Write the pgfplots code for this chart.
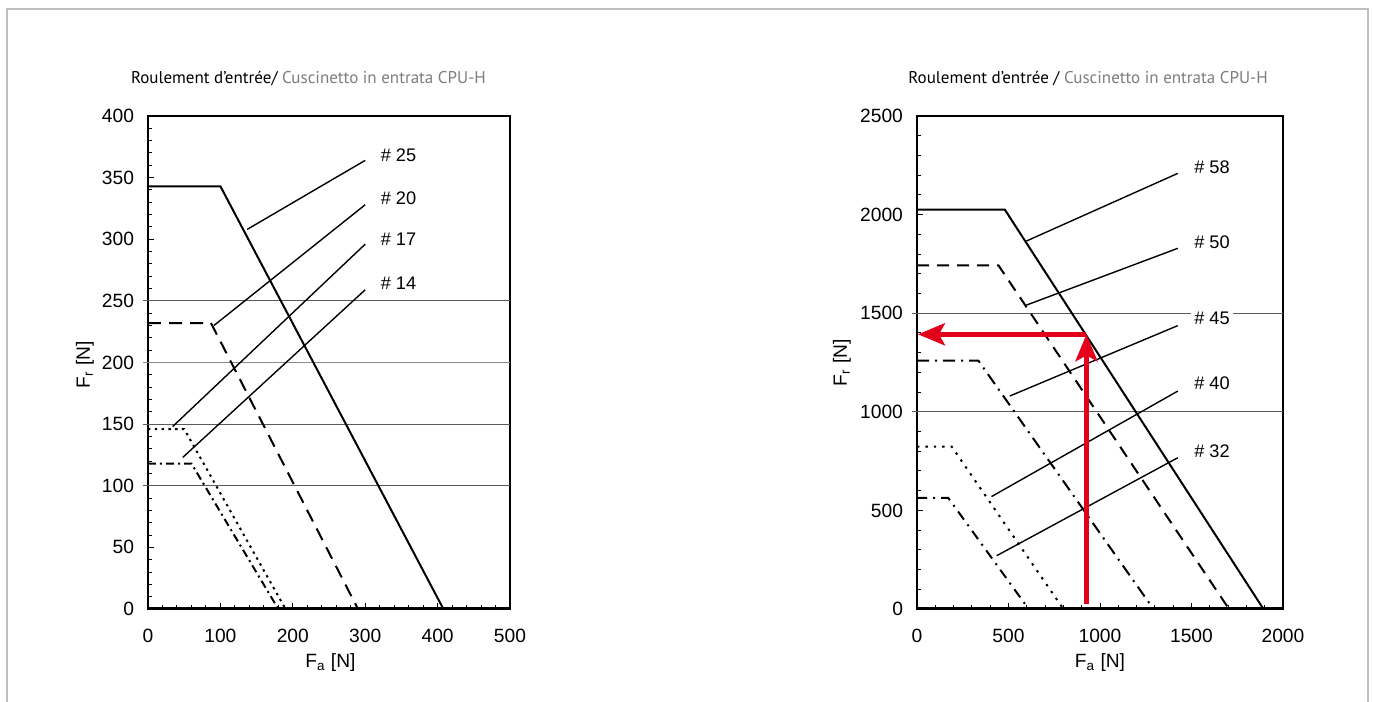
\documentclass[border=0pt]{standalone}
\usepackage{fontspec}
\setmainfont{Liberation Sans}
\newfontfamily\titlefont{PT Sans}
\usepackage{pgfplots}
\pgfplotsset{compat=1.18}
\usetikzlibrary{arrows.meta}
\definecolor{arrowred}{RGB}{226,0,26}
\definecolor{gridgray}{RGB}{90,90,90}
\definecolor{titlegray}{RGB}{125,125,125}
\tikzset{numlbl/.style={fill=white, inner sep=1.5pt, font=\fontsize{9.1}{11}\selectfont}}
\pgfplotsset{
  common/.style={
    scale only axis,
    axis line style={line width=1pt},
    tick align=inside,
    tick style={black, line width=0.5pt},
    major tick length=3pt, minor tick length=2pt,
    ticklabel style={font=\fontsize{9.6}{11}\selectfont},
    /pgf/number format/assume math mode=true,
    /pgf/number format/1000 sep={},
    xticklabel style={yshift=-6.5pt},
    yticklabel style={xshift=-3.5pt},
    label style={font=\fontsize{9.6}{11}\selectfont},
    clip=false,
    xtick pos=bottom, ytick pos=left,
    width=181pt, height=246.5pt,
  },
  curve/.style={black, line width=1pt},
  lbl/.style={black, line width=0.7pt},
}
\begin{document}
\begin{tikzpicture}
\useasboundingbox (0pt,0pt) rectangle (686.5pt,351pt);
\draw[black!25, line width=0.7pt] (3.5pt,0pt) -- (3.5pt,346.5pt) -- (684pt,346.5pt) -- (684pt,0pt);

\node[anchor=base west, inner sep=0pt, font=\titlefont\fontsize{8.5}{10}\selectfont] at (65.3pt,309pt)
  {Roulement d’entrée/ \textcolor{titlegray}{Cuscinetto in entrata CPU-H}};
\node[anchor=base west, inner sep=0pt, font=\titlefont\fontsize{8.5}{10}\selectfont] at (454pt,309pt)
  {Roulement d’entrée / \textcolor{titlegray}{Cuscinetto in entrata CPU-H}};

% ---------------- left chart ----------------
\begin{axis}[common,
  at={(74pt,46.5pt)}, anchor=south west,
  xmin=0, xmax=500, ymin=0, ymax=400,
  xtick={0,100,200,300,400,500},
  ytick={0,50,100,150,200,250,300,350,400},
  minor x tick num=4, minor y tick num=4,
  xlabel={F\textsubscript{a} [N]},
  ylabel={F\textsubscript{r} [N]},
  xlabel style={at={(axis description cs:0.504,0)}, anchor=center, yshift=-27pt},
  ylabel style={at={(axis description cs:0,0.495)}, anchor=center, yshift=31.5pt},
]
\draw[gridgray, line width=0.5pt] (axis cs:-7,100) -- (axis cs:500,100);
\draw[gridgray, line width=0.5pt] (axis cs:-7,150) -- (axis cs:500,150);
\draw[gridgray!70, line width=0.5pt] (axis cs:-7,200) -- (axis cs:500,200);
\draw[gridgray, line width=0.5pt] (axis cs:-7,250) -- (axis cs:500,250);

\addplot[curve] coordinates {(0,343) (100,343) (408,0)};
\addplot[curve, dash pattern=on 6.5pt off 4pt] coordinates {(0,232) (87,232) (290,0)};
\addplot[curve, dash pattern=on 1.2pt off 2.2pt] coordinates {(0,146) (50,146) (190,0)};
\addplot[curve, dash pattern=on 4pt off 2pt on 1pt off 2pt] coordinates {(0,118) (60,118) (180,0)};

\addplot[lbl] coordinates {(137,308) (300,364)};
\addplot[lbl] coordinates {(91,230) (300,328)};
\addplot[lbl] coordinates {(34,148) (300,296)};
\addplot[lbl] coordinates {(48,123) (300,259)};

\node[numlbl] at (axis cs:346,368) {\# 25};
\node[numlbl] at (axis cs:346,333) {\# 20};
\node[numlbl] at (axis cs:346,300) {\# 17};
\node[numlbl] at (axis cs:346,264) {\# 14};
\draw[line width=1.5pt] (axis cs:0,0) -- (axis cs:500,0);
\end{axis}

% ---------------- right chart ----------------
\begin{axis}[common,
  at={(458.5pt,46.5pt)}, anchor=south west,
  width=183pt,
  xmin=0, xmax=2000, ymin=0, ymax=2500,
  xtick={0,500,1000,1500,2000},
  ytick={0,500,1000,1500,2000,2500},
  minor x tick num=4, minor y tick num=4,
  xlabel={F\textsubscript{a} [N]},
  ylabel={F\textsubscript{r} [N]},
  xlabel style={at={(axis description cs:0.5,0)}, anchor=center, yshift=-27pt},
  ylabel style={at={(axis description cs:0,0.5)}, anchor=center, yshift=37.5pt},
]
\draw[gridgray, line width=0.5pt] (axis cs:-29,1000) -- (axis cs:2000,1000);
\draw[gridgray, line width=0.5pt] (axis cs:-29,1500) -- (axis cs:2000,1500);

\addplot[curve] coordinates {(0,2025) (480,2025) (1893,0)};
\addplot[curve, dash pattern=on 6pt off 4pt] coordinates {(0,1743) (445,1743) (1705,0)};
\addplot[curve, dash pattern=on 6pt off 3pt on 1pt off 3pt] coordinates {(0,1260) (335,1260) (1292,0)};
\addplot[curve, dash pattern=on 1.2pt off 3pt] coordinates {(0,823) (190,823) (800,0)};
\addplot[curve, dash pattern=on 5pt off 3pt on 1pt off 3pt] coordinates {(0,563) (171,563) (610,0)};

\addplot[lbl] coordinates {(598,1866) (1425,2209)};
\addplot[lbl] coordinates {(598,1541) (1425,1829)};
\addplot[lbl] coordinates {(507,1080) (1425,1437)};
\addplot[lbl] coordinates {(407,570) (1425,1105)};
\addplot[lbl] coordinates {(435,270) (1425,767)};

\node[numlbl] at (axis cs:1612,2240) {\# 58};
\node[numlbl] at (axis cs:1612,1860) {\# 50};
\node[numlbl] at (axis cs:1612,1474) {\# 45};
\node[numlbl] at (axis cs:1612,1145) {\# 40};
\node[numlbl] at (axis cs:1612,801) {\# 32};

\addplot[arrowred, line width=2.5pt, -{Stealth[length=13.5pt, width=11pt, inset=3pt]}] coordinates {(926,25) (926,1393)};
\addplot[arrowred, line width=2.5pt, -{Stealth[length=13.5pt, width=11pt, inset=3pt]}] coordinates {(926,1393) (5,1393)};
\draw[line width=1.5pt] (axis cs:0,0) -- (axis cs:2000,0);
\end{axis}
\end{tikzpicture}
\end{document}
